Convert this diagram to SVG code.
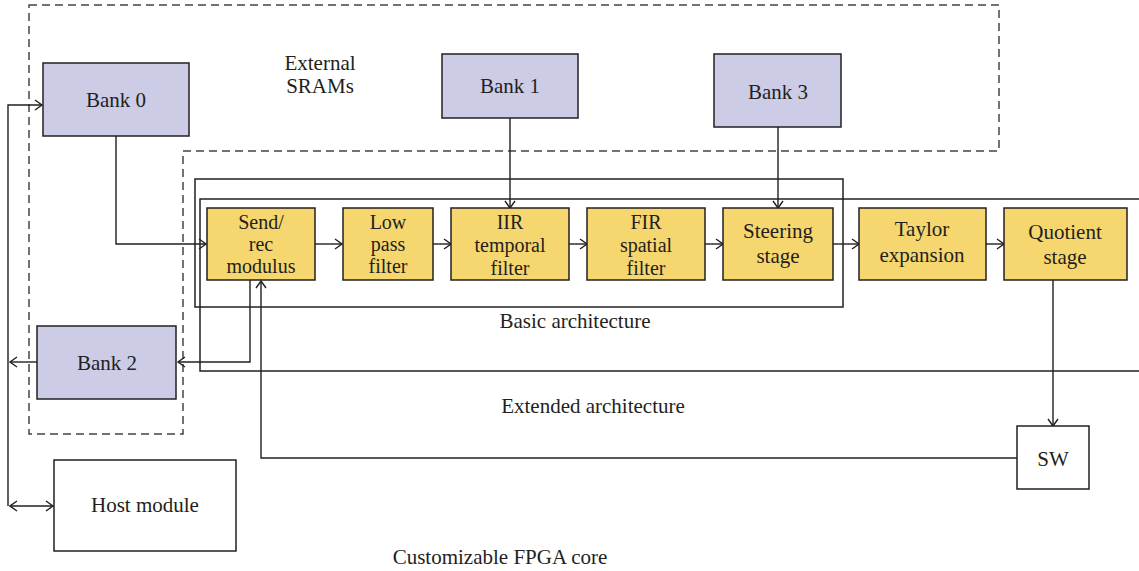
<svg xmlns="http://www.w3.org/2000/svg" width="1139" height="571" viewBox="0 0 1139 571">
<defs>
<marker id="arr" markerWidth="10" markerHeight="12" refX="8" refY="6" orient="auto" markerUnits="userSpaceOnUse">
<path d="M1,1 L8,6 L1,11" fill="none" stroke="#231f20" stroke-width="1.4"/>
</marker>
<marker id="arrs" markerWidth="10" markerHeight="12" refX="1" refY="6" orient="auto" markerUnits="userSpaceOnUse">
<path d="M8,1 L1,6 L8,11" fill="none" stroke="#231f20" stroke-width="1.4"/>
</marker>
<style>
.t{font-family:"Liberation Serif","Times New Roman",serif;font-size:21px;fill:#231f20;text-anchor:middle}
.s{font-size:20px}
.bank{fill:#cccce6;stroke:#231f20;stroke-width:1.5}
.stage{fill:#f6d66e;stroke:#231f20;stroke-width:1.5}
.plain{fill:#fff;stroke:#231f20;stroke-width:1.5}
.frame{fill:none;stroke:#231f20;stroke-width:1.5}
.dash{fill:none;stroke:#444;stroke-width:1.5;stroke-dasharray:8,5}
.c{fill:none;stroke:#231f20;stroke-width:1.4}
.ca{fill:none;stroke:#231f20;stroke-width:1.4;marker-end:url(#arr)}
</style>
</defs>
<rect width="1139" height="571" fill="#fff"/>

<g id="regions">
<path class="dash" d="M29,5 H999 V151 H183 V434 H29 Z"/>
<rect class="frame" x="195" y="179" width="648" height="128"/>
<path class="frame" d="M1139,199 H200 V371 H1139"/>
<text class="t" x="320" y="70">External</text>
<text class="t" x="320" y="93">SRAMs</text>
<text class="t" x="575" y="328">Basic architecture</text>
<text class="t" x="593" y="413">Extended architecture</text>
<text class="t" x="500" y="564">Customizable FPGA core</text>
</g>

<g id="connectors">
<path class="ca" d="M116,136 V244 H206"/>
<path class="ca" d="M315,244 H342"/>
<path class="ca" d="M433,244 H451"/>
<path class="ca" d="M569,244 H587"/>
<path class="ca" d="M705,244 H723"/>
<path class="ca" d="M833,244 H859"/>
<path class="ca" d="M986,244 H1004"/>
<path class="ca" d="M510,118 V208"/>
<path class="ca" d="M778,127 V208"/>
<path class="ca" d="M1053,280 V426"/>
<path class="ca" d="M1017,458 H261 V281"/>
<path class="ca" d="M250,280 V362 H178"/>
<path class="ca" d="M37,362 H10"/>
<path class="ca" d="M8,506 V105 H42"/>
<path class="c" d="M10,506 H53" marker-start="url(#arrs)" marker-end="url(#arr)"/>
</g>

<g id="bank0"><rect class="bank" x="43" y="63" width="146" height="73"/><text class="t" x="116" y="107">Bank 0</text></g>
<g id="bank1"><rect class="bank" x="442" y="54" width="136" height="64"/><text class="t" x="510" y="93">Bank 1</text></g>
<g id="bank3"><rect class="bank" x="714" y="54" width="127" height="73"/><text class="t" x="778" y="99">Bank 3</text></g>
<g id="bank2"><rect class="bank" x="37" y="326" width="139" height="73"/><text class="t" x="107" y="370">Bank 2</text></g>

<g id="sendrec"><rect class="stage" x="207" y="208" width="108" height="72"/>
<text class="t s" x="261" y="229">Send/</text><text class="t s" x="261" y="251">rec</text><text class="t s" x="261" y="273">modulus</text></g>
<g id="lowpass"><rect class="stage" x="343" y="208" width="90" height="72"/>
<text class="t s" x="388" y="229">Low</text><text class="t s" x="388" y="251">pass</text><text class="t s" x="388" y="273">filter</text></g>
<g id="iir"><rect class="stage" x="451" y="208" width="118" height="72"/>
<text class="t s" x="510" y="229">IIR</text><text class="t s" x="510" y="252">temporal</text><text class="t s" x="510" y="275">filter</text></g>
<g id="fir"><rect class="stage" x="587" y="208" width="118" height="72"/>
<text class="t s" x="646" y="229">FIR</text><text class="t s" x="646" y="252">spatial</text><text class="t s" x="646" y="275">filter</text></g>
<g id="steering"><rect class="stage" x="723" y="208" width="110" height="72"/>
<text class="t" x="778" y="238">Steering</text><text class="t" x="778" y="263">stage</text></g>
<g id="taylor"><rect class="stage" x="859" y="208" width="127" height="72"/>
<text class="t" x="922" y="236">Taylor</text><text class="t" x="922" y="262">expansion</text></g>
<g id="quotient"><rect class="stage" x="1004" y="208" width="123" height="72"/>
<text class="t" x="1065" y="239">Quotient</text><text class="t" x="1065" y="264">stage</text></g>

<g id="sw"><rect class="plain" x="1017" y="426" width="72" height="63"/><text class="t" x="1053" y="466">SW</text></g>
<g id="host"><rect class="plain" x="54" y="460" width="182" height="91"/><text class="t" x="145" y="512">Host module</text></g>
</svg>
